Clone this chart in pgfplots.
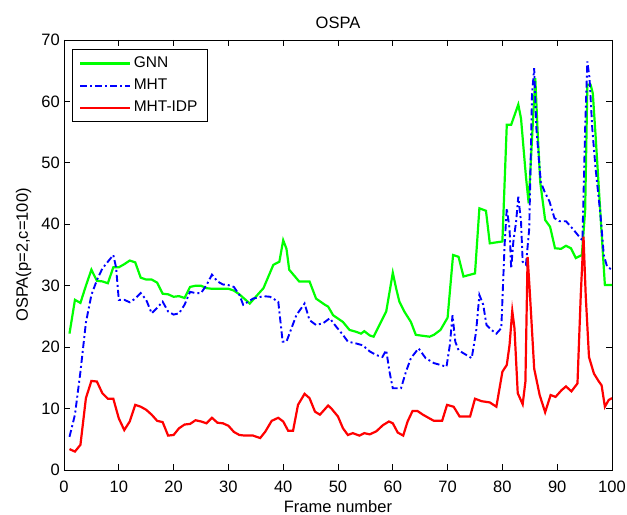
\documentclass[border=0pt]{standalone}
\usepackage{fontspec}
\setmainfont{Liberation Sans}
\usepackage{pgfplots}
\pgfplotsset{compat=1.18}
\definecolor{mgreen}{RGB}{0,255,0}
\definecolor{mblue}{RGB}{0,0,255}
\definecolor{mred}{RGB}{255,0,0}
\begin{document}
\fontsize{16}{19}\selectfont
\begin{tikzpicture}
\begin{axis}[
  scale only axis,
  width=548pt, height=430pt,
  xmin=0, xmax=100, ymin=0, ymax=70,
  xtick={0,10,...,100}, ytick={0,10,...,70},
  tick align=inside,
  major tick length=6pt,
  axis line style={line width=0.9pt, black},
  every tick/.style={line width=0.9pt, black},
  /pgf/number format/assume math mode=true,
  xticklabel style={anchor=base, yshift=-23pt, inner sep=0pt, font=\fontsize{16.5}{19}\selectfont},
  yticklabel style={anchor=east, xshift=-4pt, inner sep=0pt, font=\fontsize{16.5}{19}\selectfont},
  title={OSPA},
  every axis title shift=0pt,
  title style={at={(axis description cs:0.5,1)}, anchor=base, yshift=11.7pt, inner sep=0pt, font=\fontsize{16.5}{19}\selectfont},
  xlabel={Frame number},
  xlabel style={at={(axis description cs:0.5,0)}, anchor=base, yshift=-43pt, inner sep=0pt, font=\fontsize{16.5}{19}\selectfont},
  ylabel={OSPA(p=2,c=100)},
  ylabel style={at={(axis description cs:-0.0739,0.5)}, anchor=center, inner sep=0pt, font=\fontsize{16.5}{19}\selectfont},
  legend cell align=left,
  legend style={at={(axis description cs:0,1)}, anchor=north west, xshift=7.7pt, yshift=-9pt,
    draw=black, line width=0.8pt, fill=white, font=\fontsize{15.5}{18}\selectfont,
    inner xsep=7pt, inner ysep=5pt, row sep=4pt,
    nodes={inner sep=2.5pt}},
  legend image code/.code={\draw[#1] (0pt,0pt) -- (50pt,0pt);},
]
\addplot[mgreen, line width=2.2pt] coordinates {
(1,22.2)(2,27.7)(3,27.2)(4,30)(5,32.6)(6,30.8)(7,30.7)(8,30.4)(9,33)(10,33)
(11,33.5)(12,34.1)(13,33.8)(14,31.3)(15,31)(16,31)(17,30.5)(18,28.7)(19,28.6)(20,28.2)
(21,28.3)(22,28)(23,29.8)(24,30)(25,30)(26,29.6)(27,29.5)(28,29.5)(29,29.5)(30,29.5)
(31,29.2)(32,28.6)(33.9,27.1)(36.4,29.6)(38.2,33.4)(39.3,33.9)(40,37.4)(40.6,36)(41.1,32.6)(42.9,30.7)
(44.8,30.7)(46,27.9)(47.6,26.9)(48.2,26.6)(49.1,25.2)(50.9,24.1)(52.1,22.8)(53.3,22.5)(54.2,22.2)(54.8,22.6)
(55.8,21.9)(56.5,21.7)(58.8,25.8)(60,32.1)(60.6,29.6)(61.2,27.4)(62.1,25.8)(63.3,24.1)(64.2,22)(66.7,21.7)
(67.5,22)(68.7,22.8)(70,24.8)(71,35)(72,34.7)(72.9,31.5)(75,32)(75.8,42.6)(77,42.2)(77.7,36.9)
(80,37.2)(80.8,56.2)(81.6,56.2)(82.9,59.5)(83.4,57.2)(84.3,47.7)(84.8,43.4)(85.5,55.6)(86,63.8)(86.4,55.6)
(86.9,46.9)(87.8,40.7)(88.7,39.6)(89.6,36.1)(90.7,36)(91.6,36.5)(92.5,36.1)(93.4,34.5)(94.5,35)(95.1,42.3)
(95.5,62.7)(96.1,62.7)(96.5,61.3)(97,54.5)(97.9,41.5)(98.7,30.1)(100,30.1)
};
\addlegendentry{GNN}
\addplot[mblue, line width=1.9pt, dash pattern=on 7pt off 3pt on 2pt off 3pt] coordinates {
(1,5.4)(2,9)(3,16)(4,24)(5,28.5)(6,30.9)(7,32.8)(8,33.9)(9,35)(9.5,33)
(10,27.7)(11,27.7)(12,27.3)(13,27.9)(14,28.8)(15,27.7)(16,25.5)(17,26.4)(18,27.4)(19,25.8)
(20,25.3)(21,25.5)(22,26.9)(23,29)(24,28.8)(25,28.8)(26,30.1)(27,31.8)(28,30.7)(29,30.2)
(30,30.1)(31,29.8)(32,28.5)(32.7,26.9)(33.6,27.4)(34.5,27.9)(36.4,28.3)(37.6,28.2)(39.1,27.4)(39.9,20.9)
(40.6,20.9)(42.4,25.2)(43.9,27.1)(44.8,24.4)(46,23.6)(47.3,23.9)(48.5,24.7)(49.7,23.3)(50.9,22)(51.8,20.9)
(53.3,20.6)(54.5,20.3)(55.8,19.3)(57,18.7)(58.1,18.4)(58.8,19.5)(59.4,16)(60,13.3)(61.5,13.3)(62.4,16)
(63.3,18.2)(64.7,19.8)(66,18.2)(67.5,17.4)(68.7,17.1)(69.8,16.8)(70.4,20.3)(70.9,25.2)(71.4,20.9)(72,19.5)
(72.9,19)(74.4,18.2)(75.2,22.5)(75.8,28.5)(76.5,26.9)(77.1,23.6)(78,22.8)(78.9,22.2)(79.8,23.1)(80.4,36.6)
(80.8,42.6)(81.3,39.3)(81.6,32.8)(82,37.2)(82.5,40.4)(82.9,44.5)(83.4,40.4)(83.7,33.9)(84.3,33.4)(84.9,39.3)
(85.4,61)(85.8,65.4)(86.2,55.6)(87,46.9)(87.7,45.3)(88.6,43.7)(89.5,41)(90.4,40.5)(91.6,40.5)(92.8,39.3)
(94,38)(94.6,37.4)(95.1,55.6)(95.5,66.5)(95.9,63.8)(96.4,55.6)(97,49.1)(97.9,41.5)(98.5,35)(99.1,33.1)
(100,32.6)
};
\addlegendentry{MHT}
\addplot[mred, line width=2.2pt] coordinates {
(1,3.4)(2,3)(3,4.1)(4,11.7)(5,14.5)(6,14.4)(7,12.5)(8,11.6)(9,11.6)(10,8.4)
(11,6.5)(12,7.9)(13,10.6)(14,10.3)(15,9.8)(16,9)(17,8)(18,7.8)(19,5.6)(20,5.7)
(21,6.8)(22,7.4)(23,7.5)(24,8.1)(25,7.9)(26,7.6)(27,8.5)(28,7.7)(29,7.6)(30,7.2)
(31,6.2)(32,5.7)(33,5.6)(34.5,5.6)(35.8,5.2)(36.7,6.2)(37.9,8)(39.1,8.5)(40,7.9)(40.9,6.4)
(41.8,6.4)(42.7,10.6)(43.9,12.4)(44.8,11.7)(45.8,9.5)(46.7,9)(48.2,10.5)(48.8,10)(50,8.7)(50.9,6.8)
(51.8,5.7)(52.7,6)(53.9,5.6)(54.8,6)(55.8,5.8)(57,6.3)(58.2,7.3)(59.3,7.9)(60,7.6)(60.9,6.1)
(61.9,5.6)(62.7,7.9)(63.6,9.6)(64.5,9.6)(65.5,9)(66.7,8.4)(67.5,8)(69,8)(69.9,10.6)(71.1,10.3)
(72.2,8.7)(74.1,8.7)(75,11.6)(76.2,11.2)(77.7,11)(78.9,10.3)(80,16)(80.8,17.1)(81.3,20.3)(81.8,25.9)
(82.2,23.1)(82.8,12.5)(83.7,10.7)(84.2,14.4)(84.6,34.7)(85,29)(85.8,16.5)(86.8,12.2)(87.8,9.4)(88.8,12.2)
(89.7,11.9)(90.8,13)(91.6,13.6)(92.6,12.8)(93.7,14.1)(94.3,28.5)(94.8,38)(95.2,28.5)(95.8,18.4)(96.7,15.7)
(97.6,14.4)(98.1,13.8)(98.7,10.3)(99.4,11.4)(100,11.7)
};
\addlegendentry{MHT-IDP}
\end{axis}
\path ([shift={(-64pt,-45pt)}]current axis.south west) rectangle ([shift={(15pt,40pt)}]current axis.north east);
\end{tikzpicture}
\end{document}
